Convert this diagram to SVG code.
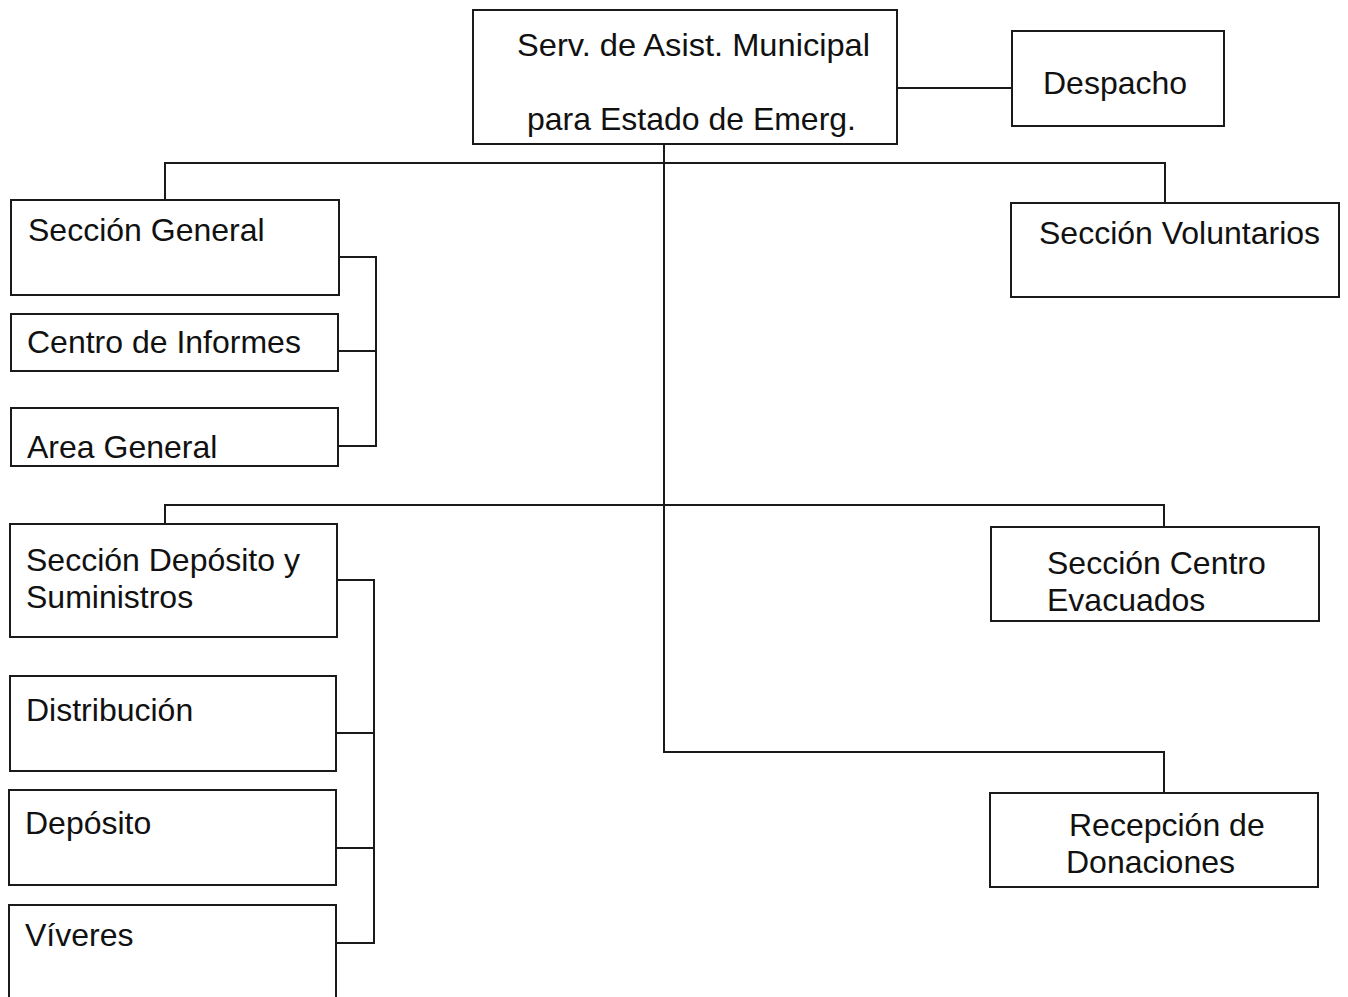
<svg xmlns="http://www.w3.org/2000/svg" width="1348" height="997" viewBox="0 0 1348 997">
<style>
.box{fill:#fff;stroke:#1a1a1a;stroke-width:2}
.ln{fill:none;stroke:#1a1a1a;stroke-width:2}
text{font-family:"Liberation Sans",Arial,sans-serif;font-size:32px;fill:#111}
</style>
<rect width="1348" height="997" fill="#fff"/>
<g id="connectors">
<path class="ln" d="M897 88H1012"/>
<path class="ln" d="M664 144V752H1164V793"/>
<path class="ln" d="M165 200V163H1165V203"/>
<path class="ln" d="M165 524V505H1164V527"/>
<path class="ln" d="M339 257H376V446H338M338 351H376"/>
<path class="ln" d="M337 580H374V943H336M336 733H374M336 848H374"/>
</g>
<g id="n-root"><rect class="box" x="473" y="10" width="424" height="134"/>
<text x="517" y="56" textLength="353" lengthAdjust="spacingAndGlyphs">Serv. de Asist. Municipal</text>
<text x="527" y="130" textLength="329" lengthAdjust="spacingAndGlyphs">para Estado de Emerg.</text></g>
<g id="n-despacho"><rect class="box" x="1012" y="31" width="212" height="95"/>
<text x="1043" y="94">Despacho</text></g>
<g id="n-general"><rect class="box" x="11" y="200" width="328" height="95"/>
<text x="28" y="241">Sección General</text></g>
<g id="n-informes"><rect class="box" x="11" y="314" width="327" height="57"/>
<text x="27" y="353">Centro de Informes</text></g>
<g id="n-area"><rect class="box" x="11" y="408" width="327" height="58"/>
<text x="27" y="458">Area General</text></g>
<g id="n-voluntarios"><rect class="box" x="1011" y="203" width="328" height="94"/>
<text x="1039" y="244">Sección Voluntarios</text></g>
<g id="n-deposito-sum"><rect class="box" x="10" y="524" width="327" height="113"/>
<text x="26" y="571">Sección Depósito y</text>
<text x="26" y="608">Suministros</text></g>
<g id="n-distribucion"><rect class="box" x="10" y="676" width="326" height="95"/>
<text x="26" y="721">Distribución</text></g>
<g id="n-deposito"><rect class="box" x="9" y="790" width="327" height="95"/>
<text x="25" y="834">Depósito</text></g>
<g id="n-viveres"><rect class="box" x="9" y="905" width="327" height="100"/>
<text x="25" y="946">Víveres</text></g>
<g id="n-evacuados"><rect class="box" x="991" y="527" width="328" height="94"/>
<text x="1047" y="574">Sección Centro</text>
<text x="1047" y="611">Evacuados</text></g>
<g id="n-donaciones"><rect class="box" x="990" y="793" width="328" height="94"/>
<text x="1069" y="836">Recepción de</text>
<text x="1066" y="873">Donaciones</text></g>
</svg>
